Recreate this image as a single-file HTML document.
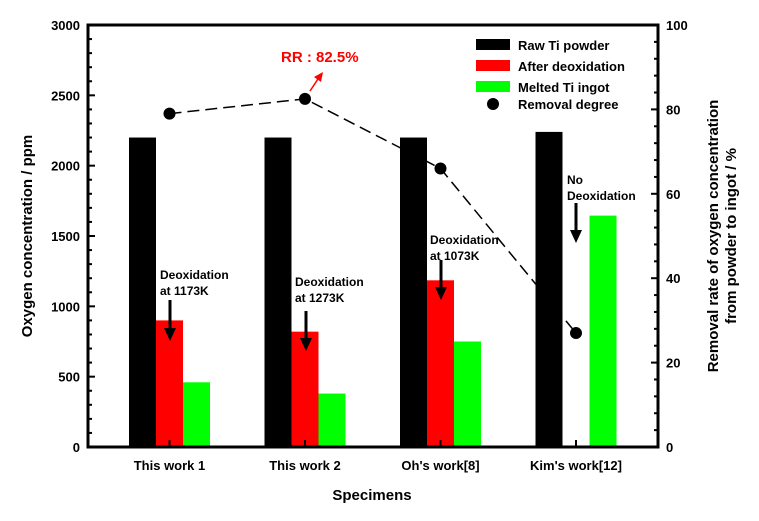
<!DOCTYPE html>
<html><head><meta charset="utf-8"><style>
body{margin:0;background:#fff}
svg text{font-family:"Liberation Sans",Arial,sans-serif;font-weight:bold}
</style></head><body>
<svg id="chart" width="759" height="516" xmlns="http://www.w3.org/2000/svg">
<g id="marks"></g>
<rect x="88" y="25" width="570" height="422" fill="none" stroke="#000" stroke-width="3"/>
<g id="axes"></g>
<g font-size="13">
<rect x="476" y="39" width="34" height="11" fill="#000"/><text x="518" y="50">Raw Ti powder</text>
<rect x="476" y="60" width="34" height="11" fill="red"/><text x="518" y="71">After deoxidation</text>
<rect x="476" y="81" width="34" height="11" fill="#0f0"/><text x="518" y="92">Melted Ti ingot</text>
<circle cx="493" cy="104" r="6" fill="#000"/><text x="518" y="109">Removal degree</text>
</g>
<g font-size="12">
<text x="160" y="279">Deoxidation</text><text x="160" y="295">at 1173K</text>
<line x1="170" y1="300" x2="170" y2="330" stroke="#000" stroke-width="3"/><polygon points="164,328 176,328 170,341" fill="#000"/>
<text x="295" y="286">Deoxidation</text><text x="295" y="302">at 1273K</text>
<line x1="306" y1="311" x2="306" y2="340" stroke="#000" stroke-width="3"/><polygon points="300,338 312,338 306,351" fill="#000"/>
<text x="430" y="244">Deoxidation</text><text x="430" y="260">at 1073K</text>
<line x1="441" y1="260" x2="441" y2="289" stroke="#000" stroke-width="3"/><polygon points="435,287 447,287 441,300" fill="#000"/>
<text x="567" y="184">No</text><text x="567" y="200">Deoxidation</text>
<line x1="576" y1="203" x2="576" y2="232" stroke="#000" stroke-width="3"/><polygon points="570,230 582,230 576,243" fill="#000"/>
<text x="281" y="62" fill="red" font-size="15">RR : 82.5%</text>
<line x1="310" y1="91" x2="318" y2="79" stroke="red" stroke-width="1.5"/><polygon points="314,77 323,72 321,82" fill="red"/>
</g>
<text x="372" y="500" font-size="15" text-anchor="middle">Specimens</text>
<text transform="translate(32,236) rotate(-90)" font-size="15" text-anchor="middle">Oxygen concentration / ppm</text>
<text transform="translate(718,236) rotate(-90)" font-size="15" text-anchor="middle"><tspan x="0" dy="0">Removal rate of oxygen concentration</tspan><tspan x="0" dy="18">from powder to ingot / %</tspan></text>
</svg>
<script>
const categories=["This work 1","This work 2","Oh's work[8]","Kim's work[12]"];
const rawPowder=[2200,2200,2200,2240];
const afterDeox=[900,820,1185,0];
const meltedIngot=[460,380,750,1645];
const removal=[79,82.5,66,27];
const leftTicks=[0,500,1000,1500,2000,2500,3000];
const rightTicks=[0,20,40,60,80,100];
const NS="http://www.w3.org/2000/svg";
const X0=88,X1=658,Y0=447,Y1=25;
const yL=v=>Y0-(v/3000)*(Y0-Y1);
const yR=v=>Y0-(v/100)*(Y0-Y1);
const groupX=i=>129+i*135.5;
const BW=27;
function mk(t,a,p){const e=document.createElementNS(NS,t);for(const k in a)e.setAttribute(k,a[k]);(p||document.getElementById('marks')).appendChild(e);return e;}
const marks=document.getElementById('marks'),axes=document.getElementById('axes');
let d='';removal.forEach((v,i)=>{d+=(i?'L':'M')+(groupX(i)+1.5*BW)+','+yR(v);});
const ln=mk('path',{d:d,fill:'none',stroke:'#000','stroke-width':1.5,'stroke-dasharray':'12,6'});


const series=[[rawPowder,'#000','bar-raw'],[afterDeox,'#f00','bar-deox'],[meltedIngot,'#0f0','bar-ingot']];
series.forEach(([arr,c,n],s)=>arr.forEach((v,i)=>{
 if(v<=0)return;
 const r=mk('rect',{x:groupX(i)+s*BW,y:yL(v),width:BW,height:Y0-yL(v),fill:c});
 
 
}));
removal.forEach((v,i)=>{const c=mk('circle',{cx:groupX(i)+1.5*BW,cy:yR(v),r:6,fill:'#000'});
 
 });
for(let v=0;v<=3000;v+=100){const maj=v%500===0;mk('line',{x1:X0,x2:X0+(maj?7:4),y1:yL(v),y2:yL(v),stroke:'#000','stroke-width':2},axes);}
leftTicks.forEach(v=>{const t=mk('text',{x:X0-8,y:yL(v)+5,'font-size':13,'text-anchor':'end'},axes);t.textContent=v;
 
 });
for(let v=0;v<=100;v+=4){const maj=v%20===0;mk('line',{x1:X1,x2:X1-(maj?7:4),y1:yR(v),y2:yR(v),stroke:'#000','stroke-width':2},axes);}
rightTicks.forEach(v=>{const t=mk('text',{x:X1+8,y:yR(v)+5,'font-size':13},axes);t.textContent=v;
 
 });
categories.forEach((c,i)=>{const x=groupX(i)+1.5*BW;mk('line',{x1:x,x2:x,y1:Y0,y2:Y0-7,stroke:'#000','stroke-width':2},axes);
 const t=mk('text',{x:x,y:Y0+23,'font-size':13,'text-anchor':'middle'},axes);t.textContent=c;
 
 });
</script>
</body></html>
